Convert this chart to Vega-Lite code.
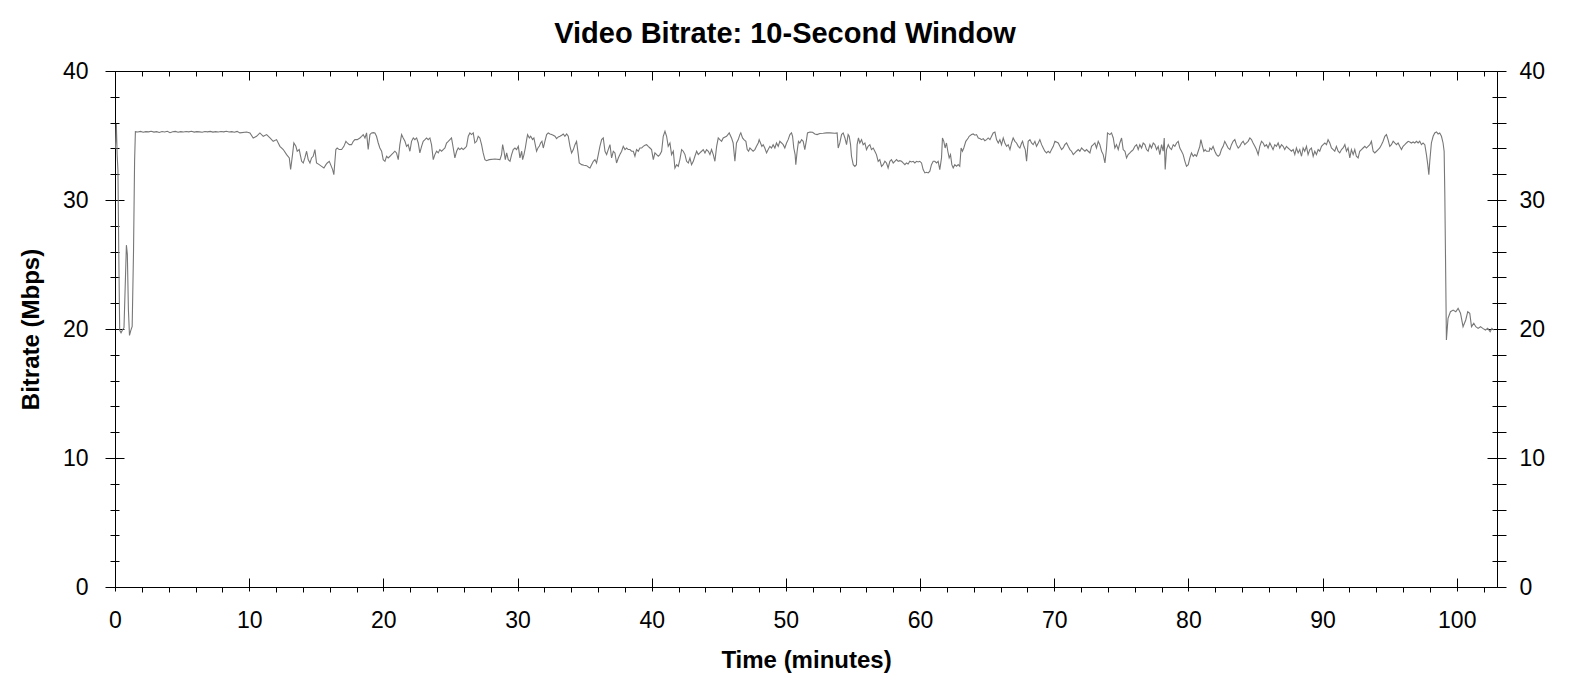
{
  "$schema": "https://vega.github.io/schema/vega-lite/v6.json",
  "title": {
    "text": "Video Bitrate: 10-Second Window",
    "font": "Liberation Sans",
    "fontSize": 29,
    "fontWeight": "bold",
    "color": "black",
    "anchor": "middle",
    "frame": "group",
    "dx": -21,
    "offset": 11
  },
  "autosize": "none",
  "padding": {"left": 115, "top": 71, "right": 73, "bottom": 108},
  "width": 1382,
  "height": 516,
  "background": "white",
  "config": {
    "view": {"stroke": "black", "strokeWidth": 1},
    "axis": {
      "domain": false,
      "grid": false,
      "tickColor": "black",
      "tickWidth": 1,
      "labelColor": "black",
      "labelFont": "Liberation Sans",
      "labelFontSize": 23,
      "labelFlush": false,
      "labelOverlap": false,
      "titleFont": "Liberation Sans",
      "titleFontSize": 24,
      "titleFontWeight": "bold",
      "titleColor": "black"
    }
  },
  "data": {
    "values": [
      {"minutes": 0.03, "mbps": 34.0},
      {"minutes": 0.10, "mbps": 35.9},
      {"minutes": 0.16, "mbps": 33.5},
      {"minutes": 0.22, "mbps": 32.3},
      {"minutes": 0.28, "mbps": 26.0},
      {"minutes": 0.35, "mbps": 19.9},
      {"minutes": 0.45, "mbps": 19.7},
      {"minutes": 0.55, "mbps": 19.9},
      {"minutes": 0.67, "mbps": 20.1},
      {"minutes": 0.78, "mbps": 24.0},
      {"minutes": 0.85, "mbps": 26.5},
      {"minutes": 0.92, "mbps": 25.8},
      {"minutes": 1.00, "mbps": 21.5},
      {"minutes": 1.08, "mbps": 19.5},
      {"minutes": 1.18, "mbps": 19.9},
      {"minutes": 1.28, "mbps": 20.2},
      {"minutes": 1.38, "mbps": 26.0},
      {"minutes": 1.46, "mbps": 33.0},
      {"minutes": 1.52, "mbps": 35.30},
      {"minutes": 1.7, "mbps": 35.27},
      {"minutes": 1.9, "mbps": 35.32},
      {"minutes": 2.1, "mbps": 35.25},
      {"minutes": 2.3, "mbps": 35.30},
      {"minutes": 2.5, "mbps": 35.28},
      {"minutes": 2.7, "mbps": 35.33},
      {"minutes": 2.9, "mbps": 35.26},
      {"minutes": 3.1, "mbps": 35.30},
      {"minutes": 3.3, "mbps": 35.24},
      {"minutes": 3.5, "mbps": 35.31},
      {"minutes": 3.7, "mbps": 35.27},
      {"minutes": 3.9, "mbps": 35.33},
      {"minutes": 4.1, "mbps": 35.22},
      {"minutes": 4.3, "mbps": 35.29},
      {"minutes": 4.5, "mbps": 35.32},
      {"minutes": 4.7, "mbps": 35.25},
      {"minutes": 4.9, "mbps": 35.30},
      {"minutes": 5.1, "mbps": 35.27},
      {"minutes": 5.3, "mbps": 35.31},
      {"minutes": 5.5, "mbps": 35.28},
      {"minutes": 5.7, "mbps": 35.33},
      {"minutes": 5.9, "mbps": 35.26},
      {"minutes": 6.1, "mbps": 35.30},
      {"minutes": 6.3, "mbps": 35.28},
      {"minutes": 6.5, "mbps": 35.25},
      {"minutes": 6.7, "mbps": 35.31},
      {"minutes": 6.9, "mbps": 35.28},
      {"minutes": 7.1, "mbps": 35.32},
      {"minutes": 7.3, "mbps": 35.26},
      {"minutes": 7.5, "mbps": 35.30},
      {"minutes": 7.7, "mbps": 35.27},
      {"minutes": 7.9, "mbps": 35.31},
      {"minutes": 8.1, "mbps": 35.28},
      {"minutes": 8.3, "mbps": 35.33},
      {"minutes": 8.5, "mbps": 35.27},
      {"minutes": 8.7, "mbps": 35.30},
      {"minutes": 8.9, "mbps": 35.25},
      {"minutes": 9.1, "mbps": 35.32},
      {"minutes": 9.31, "mbps": 35.20},
      {"minutes": 9.81, "mbps": 35.27},
      {"minutes": 10.06, "mbps": 35.20},
      {"minutes": 10.30, "mbps": 34.81},
      {"minutes": 10.55, "mbps": 34.94},
      {"minutes": 10.80, "mbps": 35.20},
      {"minutes": 11.05, "mbps": 34.94},
      {"minutes": 11.30, "mbps": 35.07},
      {"minutes": 11.55, "mbps": 34.81},
      {"minutes": 11.79, "mbps": 34.55},
      {"minutes": 12.04, "mbps": 34.68},
      {"minutes": 12.29, "mbps": 34.16},
      {"minutes": 12.54, "mbps": 33.91},
      {"minutes": 12.79, "mbps": 33.52},
      {"minutes": 12.99, "mbps": 33.26},
      {"minutes": 13.09, "mbps": 32.36},
      {"minutes": 13.23, "mbps": 33.52},
      {"minutes": 13.33, "mbps": 34.42},
      {"minutes": 13.48, "mbps": 34.16},
      {"minutes": 13.58, "mbps": 33.78},
      {"minutes": 13.73, "mbps": 33.91},
      {"minutes": 13.91, "mbps": 33.00},
      {"minutes": 14.03, "mbps": 32.87},
      {"minutes": 14.15, "mbps": 33.26},
      {"minutes": 14.28, "mbps": 33.78},
      {"minutes": 14.40, "mbps": 33.13},
      {"minutes": 14.53, "mbps": 32.87},
      {"minutes": 14.65, "mbps": 33.26},
      {"minutes": 14.77, "mbps": 33.39},
      {"minutes": 14.90, "mbps": 33.91},
      {"minutes": 15.02, "mbps": 32.87},
      {"minutes": 15.22, "mbps": 32.74},
      {"minutes": 15.40, "mbps": 32.61},
      {"minutes": 15.57, "mbps": 32.48},
      {"minutes": 15.72, "mbps": 32.74},
      {"minutes": 15.82, "mbps": 32.87},
      {"minutes": 15.97, "mbps": 33.00},
      {"minutes": 16.07, "mbps": 32.74},
      {"minutes": 16.22, "mbps": 32.36},
      {"minutes": 16.31, "mbps": 31.97},
      {"minutes": 16.46, "mbps": 33.91},
      {"minutes": 16.56, "mbps": 34.03},
      {"minutes": 16.71, "mbps": 33.91},
      {"minutes": 16.89, "mbps": 33.91},
      {"minutes": 17.06, "mbps": 34.16},
      {"minutes": 17.21, "mbps": 34.55},
      {"minutes": 17.31, "mbps": 34.42},
      {"minutes": 17.46, "mbps": 34.29},
      {"minutes": 17.63, "mbps": 34.29},
      {"minutes": 17.76, "mbps": 34.55},
      {"minutes": 17.88, "mbps": 34.68},
      {"minutes": 18.05, "mbps": 34.68},
      {"minutes": 18.25, "mbps": 34.81},
      {"minutes": 18.38, "mbps": 34.94},
      {"minutes": 18.50, "mbps": 35.07},
      {"minutes": 18.63, "mbps": 34.81},
      {"minutes": 18.75, "mbps": 35.20},
      {"minutes": 18.87, "mbps": 33.91},
      {"minutes": 19.00, "mbps": 35.07},
      {"minutes": 19.12, "mbps": 35.20},
      {"minutes": 19.25, "mbps": 35.22},
      {"minutes": 19.37, "mbps": 35.20},
      {"minutes": 19.49, "mbps": 34.94},
      {"minutes": 19.62, "mbps": 34.42},
      {"minutes": 19.74, "mbps": 34.03},
      {"minutes": 19.87, "mbps": 33.78},
      {"minutes": 19.99, "mbps": 33.13},
      {"minutes": 20.12, "mbps": 33.00},
      {"minutes": 20.24, "mbps": 33.39},
      {"minutes": 20.36, "mbps": 33.26},
      {"minutes": 20.49, "mbps": 33.39},
      {"minutes": 20.61, "mbps": 33.52},
      {"minutes": 20.74, "mbps": 33.65},
      {"minutes": 20.86, "mbps": 33.78},
      {"minutes": 20.98, "mbps": 33.65},
      {"minutes": 21.11, "mbps": 33.13},
      {"minutes": 21.23, "mbps": 34.29},
      {"minutes": 21.36, "mbps": 35.07},
      {"minutes": 21.48, "mbps": 34.81},
      {"minutes": 21.61, "mbps": 34.55},
      {"minutes": 21.73, "mbps": 34.16},
      {"minutes": 21.85, "mbps": 34.29},
      {"minutes": 21.98, "mbps": 33.78},
      {"minutes": 22.10, "mbps": 34.55},
      {"minutes": 22.23, "mbps": 34.81},
      {"minutes": 22.35, "mbps": 34.68},
      {"minutes": 22.48, "mbps": 34.81},
      {"minutes": 22.60, "mbps": 34.42},
      {"minutes": 22.72, "mbps": 33.65},
      {"minutes": 22.85, "mbps": 34.16},
      {"minutes": 22.97, "mbps": 34.55},
      {"minutes": 23.10, "mbps": 34.68},
      {"minutes": 23.22, "mbps": 34.81},
      {"minutes": 23.34, "mbps": 34.68},
      {"minutes": 23.47, "mbps": 34.81},
      {"minutes": 23.59, "mbps": 34.29},
      {"minutes": 23.72, "mbps": 33.13},
      {"minutes": 23.84, "mbps": 33.52},
      {"minutes": 23.97, "mbps": 33.78},
      {"minutes": 24.09, "mbps": 33.65},
      {"minutes": 24.21, "mbps": 33.91},
      {"minutes": 24.34, "mbps": 33.78},
      {"minutes": 24.46, "mbps": 33.91},
      {"minutes": 24.59, "mbps": 34.03},
      {"minutes": 24.71, "mbps": 34.42},
      {"minutes": 24.84, "mbps": 34.55},
      {"minutes": 24.96, "mbps": 34.68},
      {"minutes": 25.08, "mbps": 34.81},
      {"minutes": 25.21, "mbps": 34.03},
      {"minutes": 25.33, "mbps": 33.26},
      {"minutes": 25.46, "mbps": 33.78},
      {"minutes": 25.58, "mbps": 34.03},
      {"minutes": 25.70, "mbps": 33.91},
      {"minutes": 25.83, "mbps": 34.03},
      {"minutes": 25.95, "mbps": 33.91},
      {"minutes": 26.08, "mbps": 34.03},
      {"minutes": 26.20, "mbps": 34.16},
      {"minutes": 26.33, "mbps": 34.94},
      {"minutes": 26.45, "mbps": 35.20},
      {"minutes": 26.57, "mbps": 35.07},
      {"minutes": 26.70, "mbps": 35.20},
      {"minutes": 26.82, "mbps": 34.42},
      {"minutes": 26.95, "mbps": 34.55},
      {"minutes": 27.07, "mbps": 34.94},
      {"minutes": 27.19, "mbps": 34.81},
      {"minutes": 27.32, "mbps": 34.29},
      {"minutes": 27.44, "mbps": 33.65},
      {"minutes": 27.57, "mbps": 33.13},
      {"minutes": 27.69, "mbps": 33.05},
      {"minutes": 27.89, "mbps": 33.13},
      {"minutes": 28.32, "mbps": 33.18},
      {"minutes": 28.69, "mbps": 33.13},
      {"minutes": 28.81, "mbps": 33.52},
      {"minutes": 28.89, "mbps": 34.29},
      {"minutes": 28.99, "mbps": 33.78},
      {"minutes": 29.09, "mbps": 33.13},
      {"minutes": 29.19, "mbps": 33.65},
      {"minutes": 29.31, "mbps": 33.13},
      {"minutes": 29.44, "mbps": 33.00},
      {"minutes": 29.56, "mbps": 33.52},
      {"minutes": 29.68, "mbps": 33.91},
      {"minutes": 29.81, "mbps": 34.03},
      {"minutes": 29.93, "mbps": 33.91},
      {"minutes": 30.06, "mbps": 34.16},
      {"minutes": 30.18, "mbps": 33.26},
      {"minutes": 30.31, "mbps": 33.78},
      {"minutes": 30.38, "mbps": 33.13},
      {"minutes": 30.48, "mbps": 33.52},
      {"minutes": 30.58, "mbps": 34.03},
      {"minutes": 30.68, "mbps": 34.68},
      {"minutes": 30.75, "mbps": 35.07},
      {"minutes": 30.88, "mbps": 34.81},
      {"minutes": 30.98, "mbps": 34.94},
      {"minutes": 31.12, "mbps": 34.68},
      {"minutes": 31.22, "mbps": 34.81},
      {"minutes": 31.32, "mbps": 34.29},
      {"minutes": 31.42, "mbps": 33.78},
      {"minutes": 31.52, "mbps": 34.03},
      {"minutes": 31.62, "mbps": 34.16},
      {"minutes": 31.72, "mbps": 34.42},
      {"minutes": 31.82, "mbps": 34.55},
      {"minutes": 31.92, "mbps": 34.03},
      {"minutes": 32.04, "mbps": 34.55},
      {"minutes": 32.17, "mbps": 35.07},
      {"minutes": 32.29, "mbps": 35.20},
      {"minutes": 32.42, "mbps": 35.12},
      {"minutes": 32.54, "mbps": 35.07},
      {"minutes": 32.66, "mbps": 35.02},
      {"minutes": 32.79, "mbps": 34.94},
      {"minutes": 32.91, "mbps": 34.76},
      {"minutes": 33.04, "mbps": 34.89},
      {"minutes": 33.16, "mbps": 34.94},
      {"minutes": 33.29, "mbps": 35.02},
      {"minutes": 33.41, "mbps": 35.12},
      {"minutes": 33.53, "mbps": 34.94},
      {"minutes": 33.66, "mbps": 35.12},
      {"minutes": 33.78, "mbps": 34.94},
      {"minutes": 33.91, "mbps": 34.16},
      {"minutes": 34.03, "mbps": 33.65},
      {"minutes": 34.16, "mbps": 33.91},
      {"minutes": 34.28, "mbps": 34.29},
      {"minutes": 34.40, "mbps": 34.55},
      {"minutes": 34.53, "mbps": 33.52},
      {"minutes": 34.60, "mbps": 32.87},
      {"minutes": 34.78, "mbps": 32.74},
      {"minutes": 34.95, "mbps": 32.69},
      {"minutes": 35.15, "mbps": 32.66},
      {"minutes": 35.30, "mbps": 32.54},
      {"minutes": 35.40, "mbps": 32.48},
      {"minutes": 35.52, "mbps": 32.74},
      {"minutes": 35.65, "mbps": 33.00},
      {"minutes": 35.77, "mbps": 33.13},
      {"minutes": 35.89, "mbps": 32.87},
      {"minutes": 36.02, "mbps": 33.52},
      {"minutes": 36.14, "mbps": 34.16},
      {"minutes": 36.27, "mbps": 34.68},
      {"minutes": 36.39, "mbps": 34.81},
      {"minutes": 36.52, "mbps": 33.78},
      {"minutes": 36.64, "mbps": 33.52},
      {"minutes": 36.76, "mbps": 33.91},
      {"minutes": 36.89, "mbps": 34.29},
      {"minutes": 37.01, "mbps": 33.26},
      {"minutes": 37.14, "mbps": 33.78},
      {"minutes": 37.26, "mbps": 33.65},
      {"minutes": 37.38, "mbps": 32.87},
      {"minutes": 37.51, "mbps": 33.26},
      {"minutes": 37.63, "mbps": 33.52},
      {"minutes": 37.76, "mbps": 33.78},
      {"minutes": 37.88, "mbps": 34.16},
      {"minutes": 38.01, "mbps": 33.91},
      {"minutes": 38.13, "mbps": 34.03},
      {"minutes": 38.25, "mbps": 33.91},
      {"minutes": 38.38, "mbps": 33.91},
      {"minutes": 38.50, "mbps": 33.78},
      {"minutes": 38.63, "mbps": 33.78},
      {"minutes": 38.75, "mbps": 33.39},
      {"minutes": 38.87, "mbps": 33.91},
      {"minutes": 39.00, "mbps": 33.78},
      {"minutes": 39.12, "mbps": 34.03},
      {"minutes": 39.25, "mbps": 34.03},
      {"minutes": 39.37, "mbps": 34.16},
      {"minutes": 39.50, "mbps": 34.24},
      {"minutes": 39.62, "mbps": 34.29},
      {"minutes": 39.74, "mbps": 34.16},
      {"minutes": 39.87, "mbps": 34.03},
      {"minutes": 39.99, "mbps": 33.91},
      {"minutes": 40.12, "mbps": 33.13},
      {"minutes": 40.24, "mbps": 33.65},
      {"minutes": 40.37, "mbps": 33.52},
      {"minutes": 40.49, "mbps": 33.39},
      {"minutes": 40.61, "mbps": 33.52},
      {"minutes": 40.74, "mbps": 33.78},
      {"minutes": 40.86, "mbps": 34.94},
      {"minutes": 40.99, "mbps": 35.33},
      {"minutes": 41.11, "mbps": 34.94},
      {"minutes": 41.23, "mbps": 34.16},
      {"minutes": 41.36, "mbps": 34.42},
      {"minutes": 41.48, "mbps": 33.52},
      {"minutes": 41.61, "mbps": 33.78},
      {"minutes": 41.73, "mbps": 32.48},
      {"minutes": 41.86, "mbps": 32.74},
      {"minutes": 41.98, "mbps": 32.61},
      {"minutes": 42.10, "mbps": 33.13},
      {"minutes": 42.23, "mbps": 33.91},
      {"minutes": 42.35, "mbps": 33.78},
      {"minutes": 42.48, "mbps": 33.52},
      {"minutes": 42.60, "mbps": 33.00},
      {"minutes": 42.73, "mbps": 32.87},
      {"minutes": 42.85, "mbps": 33.26},
      {"minutes": 42.97, "mbps": 32.74},
      {"minutes": 43.10, "mbps": 33.00},
      {"minutes": 43.22, "mbps": 33.39},
      {"minutes": 43.35, "mbps": 33.78},
      {"minutes": 43.47, "mbps": 33.52},
      {"minutes": 43.59, "mbps": 33.65},
      {"minutes": 43.72, "mbps": 33.78},
      {"minutes": 43.84, "mbps": 33.91},
      {"minutes": 43.97, "mbps": 33.65},
      {"minutes": 44.09, "mbps": 33.91},
      {"minutes": 44.22, "mbps": 33.78},
      {"minutes": 44.34, "mbps": 33.52},
      {"minutes": 44.46, "mbps": 33.91},
      {"minutes": 44.59, "mbps": 33.52},
      {"minutes": 44.71, "mbps": 33.00},
      {"minutes": 44.84, "mbps": 34.16},
      {"minutes": 44.96, "mbps": 34.81},
      {"minutes": 45.08, "mbps": 34.68},
      {"minutes": 45.21, "mbps": 34.55},
      {"minutes": 45.33, "mbps": 34.81},
      {"minutes": 45.58, "mbps": 34.94},
      {"minutes": 45.78, "mbps": 35.20},
      {"minutes": 45.83, "mbps": 35.07},
      {"minutes": 45.95, "mbps": 34.81},
      {"minutes": 46.07, "mbps": 34.42},
      {"minutes": 46.20, "mbps": 33.00},
      {"minutes": 46.32, "mbps": 34.42},
      {"minutes": 46.45, "mbps": 34.68},
      {"minutes": 46.57, "mbps": 35.07},
      {"minutes": 46.64, "mbps": 35.20},
      {"minutes": 46.77, "mbps": 34.81},
      {"minutes": 46.87, "mbps": 34.68},
      {"minutes": 47.02, "mbps": 34.55},
      {"minutes": 47.12, "mbps": 33.91},
      {"minutes": 47.22, "mbps": 33.78},
      {"minutes": 47.32, "mbps": 34.03},
      {"minutes": 47.44, "mbps": 33.91},
      {"minutes": 47.56, "mbps": 33.78},
      {"minutes": 47.69, "mbps": 33.91},
      {"minutes": 47.81, "mbps": 34.16},
      {"minutes": 47.94, "mbps": 34.42},
      {"minutes": 48.01, "mbps": 34.68},
      {"minutes": 48.11, "mbps": 34.42},
      {"minutes": 48.21, "mbps": 34.16},
      {"minutes": 48.31, "mbps": 34.29},
      {"minutes": 48.43, "mbps": 34.03},
      {"minutes": 48.56, "mbps": 33.65},
      {"minutes": 48.68, "mbps": 33.91},
      {"minutes": 48.81, "mbps": 34.16},
      {"minutes": 48.93, "mbps": 34.03},
      {"minutes": 49.05, "mbps": 34.29},
      {"minutes": 49.18, "mbps": 34.03},
      {"minutes": 49.30, "mbps": 34.42},
      {"minutes": 49.43, "mbps": 34.16},
      {"minutes": 49.55, "mbps": 34.55},
      {"minutes": 49.68, "mbps": 34.42},
      {"minutes": 49.80, "mbps": 34.29},
      {"minutes": 49.92, "mbps": 34.03},
      {"minutes": 50.05, "mbps": 34.42},
      {"minutes": 50.17, "mbps": 34.68},
      {"minutes": 50.30, "mbps": 35.07},
      {"minutes": 50.42, "mbps": 35.20},
      {"minutes": 50.50, "mbps": 34.94},
      {"minutes": 50.59, "mbps": 34.03},
      {"minutes": 50.69, "mbps": 33.52},
      {"minutes": 50.74, "mbps": 32.74},
      {"minutes": 50.84, "mbps": 33.78},
      {"minutes": 50.94, "mbps": 34.55},
      {"minutes": 51.04, "mbps": 34.42},
      {"minutes": 51.17, "mbps": 34.68},
      {"minutes": 51.29, "mbps": 34.55},
      {"minutes": 51.41, "mbps": 33.91},
      {"minutes": 51.54, "mbps": 34.68},
      {"minutes": 51.61, "mbps": 35.20},
      {"minutes": 51.79, "mbps": 35.27},
      {"minutes": 51.99, "mbps": 35.25},
      {"minutes": 52.16, "mbps": 35.12},
      {"minutes": 52.33, "mbps": 35.07},
      {"minutes": 52.53, "mbps": 35.15},
      {"minutes": 52.78, "mbps": 35.17},
      {"minutes": 53.03, "mbps": 35.20},
      {"minutes": 53.28, "mbps": 35.20},
      {"minutes": 53.65, "mbps": 35.17},
      {"minutes": 53.82, "mbps": 35.20},
      {"minutes": 53.90, "mbps": 34.03},
      {"minutes": 54.02, "mbps": 34.42},
      {"minutes": 54.15, "mbps": 35.07},
      {"minutes": 54.27, "mbps": 35.20},
      {"minutes": 54.40, "mbps": 34.81},
      {"minutes": 54.52, "mbps": 34.29},
      {"minutes": 54.64, "mbps": 35.07},
      {"minutes": 54.72, "mbps": 34.94},
      {"minutes": 54.82, "mbps": 34.29},
      {"minutes": 54.89, "mbps": 33.39},
      {"minutes": 55.02, "mbps": 32.74},
      {"minutes": 55.14, "mbps": 32.61},
      {"minutes": 55.26, "mbps": 32.74},
      {"minutes": 55.31, "mbps": 34.29},
      {"minutes": 55.41, "mbps": 34.81},
      {"minutes": 55.51, "mbps": 34.42},
      {"minutes": 55.64, "mbps": 34.68},
      {"minutes": 55.76, "mbps": 34.29},
      {"minutes": 55.89, "mbps": 34.42},
      {"minutes": 56.01, "mbps": 33.91},
      {"minutes": 56.13, "mbps": 34.16},
      {"minutes": 56.26, "mbps": 34.29},
      {"minutes": 56.38, "mbps": 33.91},
      {"minutes": 56.51, "mbps": 34.03},
      {"minutes": 56.63, "mbps": 33.78},
      {"minutes": 56.75, "mbps": 33.52},
      {"minutes": 56.88, "mbps": 33.00},
      {"minutes": 57.00, "mbps": 33.13},
      {"minutes": 57.13, "mbps": 32.61},
      {"minutes": 57.25, "mbps": 32.74},
      {"minutes": 57.38, "mbps": 33.00},
      {"minutes": 57.50, "mbps": 32.87},
      {"minutes": 57.62, "mbps": 32.48},
      {"minutes": 57.75, "mbps": 33.00},
      {"minutes": 57.87, "mbps": 33.13},
      {"minutes": 58.00, "mbps": 32.87},
      {"minutes": 58.12, "mbps": 33.00},
      {"minutes": 58.25, "mbps": 33.13},
      {"minutes": 58.37, "mbps": 33.00},
      {"minutes": 58.49, "mbps": 33.05},
      {"minutes": 58.62, "mbps": 33.00},
      {"minutes": 58.74, "mbps": 32.87},
      {"minutes": 58.87, "mbps": 32.74},
      {"minutes": 58.99, "mbps": 32.87},
      {"minutes": 59.11, "mbps": 32.79},
      {"minutes": 59.24, "mbps": 33.00},
      {"minutes": 59.36, "mbps": 32.95},
      {"minutes": 59.49, "mbps": 33.00},
      {"minutes": 59.61, "mbps": 32.87},
      {"minutes": 59.74, "mbps": 33.00},
      {"minutes": 59.86, "mbps": 32.95},
      {"minutes": 59.98, "mbps": 33.00},
      {"minutes": 60.11, "mbps": 32.87},
      {"minutes": 60.23, "mbps": 32.36},
      {"minutes": 60.36, "mbps": 32.10},
      {"minutes": 60.48, "mbps": 32.15},
      {"minutes": 60.61, "mbps": 32.10},
      {"minutes": 60.73, "mbps": 32.23},
      {"minutes": 60.85, "mbps": 32.74},
      {"minutes": 60.98, "mbps": 33.00},
      {"minutes": 61.10, "mbps": 33.00},
      {"minutes": 61.23, "mbps": 32.87},
      {"minutes": 61.35, "mbps": 33.00},
      {"minutes": 61.47, "mbps": 32.36},
      {"minutes": 61.60, "mbps": 33.26},
      {"minutes": 61.67, "mbps": 34.81},
      {"minutes": 61.77, "mbps": 34.55},
      {"minutes": 61.87, "mbps": 34.03},
      {"minutes": 61.97, "mbps": 34.42},
      {"minutes": 62.07, "mbps": 33.78},
      {"minutes": 62.17, "mbps": 33.26},
      {"minutes": 62.27, "mbps": 33.52},
      {"minutes": 62.37, "mbps": 32.74},
      {"minutes": 62.47, "mbps": 32.48},
      {"minutes": 62.59, "mbps": 32.74},
      {"minutes": 62.72, "mbps": 32.61},
      {"minutes": 62.84, "mbps": 32.74},
      {"minutes": 62.96, "mbps": 32.61},
      {"minutes": 63.06, "mbps": 34.03},
      {"minutes": 63.16, "mbps": 33.78},
      {"minutes": 63.26, "mbps": 34.03},
      {"minutes": 63.41, "mbps": 34.55},
      {"minutes": 63.59, "mbps": 34.81},
      {"minutes": 63.66, "mbps": 34.94},
      {"minutes": 63.84, "mbps": 35.07},
      {"minutes": 63.96, "mbps": 35.12},
      {"minutes": 64.09, "mbps": 35.02},
      {"minutes": 64.21, "mbps": 35.07},
      {"minutes": 64.34, "mbps": 34.81},
      {"minutes": 64.46, "mbps": 34.76},
      {"minutes": 64.58, "mbps": 34.68},
      {"minutes": 64.71, "mbps": 34.76},
      {"minutes": 64.83, "mbps": 34.60},
      {"minutes": 64.96, "mbps": 34.68},
      {"minutes": 65.08, "mbps": 34.81},
      {"minutes": 65.21, "mbps": 34.68},
      {"minutes": 65.33, "mbps": 34.94},
      {"minutes": 65.45, "mbps": 35.20},
      {"minutes": 65.58, "mbps": 35.27},
      {"minutes": 65.70, "mbps": 34.68},
      {"minutes": 65.83, "mbps": 34.42},
      {"minutes": 65.95, "mbps": 34.68},
      {"minutes": 66.07, "mbps": 34.29},
      {"minutes": 66.20, "mbps": 34.81},
      {"minutes": 66.32, "mbps": 34.42},
      {"minutes": 66.45, "mbps": 34.16},
      {"minutes": 66.57, "mbps": 34.29},
      {"minutes": 66.70, "mbps": 33.91},
      {"minutes": 66.82, "mbps": 34.42},
      {"minutes": 66.94, "mbps": 34.81},
      {"minutes": 67.07, "mbps": 34.55},
      {"minutes": 67.19, "mbps": 34.42},
      {"minutes": 67.32, "mbps": 34.16},
      {"minutes": 67.44, "mbps": 34.03},
      {"minutes": 67.57, "mbps": 34.42},
      {"minutes": 67.64, "mbps": 34.55},
      {"minutes": 67.74, "mbps": 34.16},
      {"minutes": 67.84, "mbps": 33.91},
      {"minutes": 67.94, "mbps": 33.00},
      {"minutes": 68.06, "mbps": 34.55},
      {"minutes": 68.19, "mbps": 34.68},
      {"minutes": 68.31, "mbps": 34.42},
      {"minutes": 68.43, "mbps": 34.29},
      {"minutes": 68.56, "mbps": 34.55},
      {"minutes": 68.68, "mbps": 34.16},
      {"minutes": 68.81, "mbps": 34.42},
      {"minutes": 68.93, "mbps": 34.68},
      {"minutes": 69.06, "mbps": 34.29},
      {"minutes": 69.18, "mbps": 34.03},
      {"minutes": 69.30, "mbps": 33.78},
      {"minutes": 69.43, "mbps": 33.65},
      {"minutes": 69.55, "mbps": 33.78},
      {"minutes": 69.68, "mbps": 33.65},
      {"minutes": 69.80, "mbps": 33.91},
      {"minutes": 69.93, "mbps": 34.16},
      {"minutes": 70.05, "mbps": 34.55},
      {"minutes": 70.17, "mbps": 34.50},
      {"minutes": 70.30, "mbps": 34.42},
      {"minutes": 70.42, "mbps": 34.16},
      {"minutes": 70.55, "mbps": 33.91},
      {"minutes": 70.67, "mbps": 34.03},
      {"minutes": 70.79, "mbps": 34.29},
      {"minutes": 70.92, "mbps": 34.42},
      {"minutes": 71.04, "mbps": 34.16},
      {"minutes": 71.17, "mbps": 33.91},
      {"minutes": 71.29, "mbps": 33.78},
      {"minutes": 71.42, "mbps": 33.52},
      {"minutes": 71.54, "mbps": 33.65},
      {"minutes": 71.66, "mbps": 33.78},
      {"minutes": 71.79, "mbps": 33.91},
      {"minutes": 71.91, "mbps": 33.78},
      {"minutes": 72.04, "mbps": 34.03},
      {"minutes": 72.16, "mbps": 33.91},
      {"minutes": 72.29, "mbps": 33.78},
      {"minutes": 72.41, "mbps": 33.91},
      {"minutes": 72.53, "mbps": 33.78},
      {"minutes": 72.66, "mbps": 33.65},
      {"minutes": 72.78, "mbps": 34.16},
      {"minutes": 72.91, "mbps": 34.29},
      {"minutes": 73.03, "mbps": 34.42},
      {"minutes": 73.15, "mbps": 34.03},
      {"minutes": 73.28, "mbps": 34.55},
      {"minutes": 73.40, "mbps": 34.29},
      {"minutes": 73.53, "mbps": 33.78},
      {"minutes": 73.65, "mbps": 33.52},
      {"minutes": 73.78, "mbps": 32.87},
      {"minutes": 73.90, "mbps": 34.03},
      {"minutes": 73.97, "mbps": 35.20},
      {"minutes": 74.15, "mbps": 35.07},
      {"minutes": 74.27, "mbps": 35.20},
      {"minutes": 74.40, "mbps": 34.81},
      {"minutes": 74.52, "mbps": 34.03},
      {"minutes": 74.64, "mbps": 34.29},
      {"minutes": 74.77, "mbps": 33.91},
      {"minutes": 74.89, "mbps": 34.42},
      {"minutes": 75.02, "mbps": 34.81},
      {"minutes": 75.14, "mbps": 33.91},
      {"minutes": 75.27, "mbps": 33.78},
      {"minutes": 75.39, "mbps": 33.26},
      {"minutes": 75.51, "mbps": 33.52},
      {"minutes": 75.64, "mbps": 33.65},
      {"minutes": 75.76, "mbps": 33.78},
      {"minutes": 75.89, "mbps": 33.91},
      {"minutes": 76.01, "mbps": 34.16},
      {"minutes": 76.14, "mbps": 34.29},
      {"minutes": 76.26, "mbps": 33.91},
      {"minutes": 76.38, "mbps": 34.29},
      {"minutes": 76.51, "mbps": 34.03},
      {"minutes": 76.63, "mbps": 34.42},
      {"minutes": 76.76, "mbps": 34.29},
      {"minutes": 76.88, "mbps": 33.91},
      {"minutes": 77.00, "mbps": 33.78},
      {"minutes": 77.13, "mbps": 34.29},
      {"minutes": 77.25, "mbps": 34.03},
      {"minutes": 77.38, "mbps": 34.42},
      {"minutes": 77.50, "mbps": 34.29},
      {"minutes": 77.63, "mbps": 33.91},
      {"minutes": 77.75, "mbps": 34.16},
      {"minutes": 77.87, "mbps": 33.52},
      {"minutes": 78.00, "mbps": 34.29},
      {"minutes": 78.12, "mbps": 33.78},
      {"minutes": 78.20, "mbps": 34.81},
      {"minutes": 78.27, "mbps": 32.36},
      {"minutes": 78.37, "mbps": 33.91},
      {"minutes": 78.50, "mbps": 34.29},
      {"minutes": 78.62, "mbps": 34.03},
      {"minutes": 78.74, "mbps": 33.91},
      {"minutes": 78.87, "mbps": 34.29},
      {"minutes": 78.99, "mbps": 34.16},
      {"minutes": 79.12, "mbps": 34.42},
      {"minutes": 79.24, "mbps": 34.55},
      {"minutes": 79.36, "mbps": 34.03},
      {"minutes": 79.49, "mbps": 33.78},
      {"minutes": 79.61, "mbps": 33.52},
      {"minutes": 79.74, "mbps": 33.00},
      {"minutes": 79.86, "mbps": 32.61},
      {"minutes": 79.99, "mbps": 32.74},
      {"minutes": 80.11, "mbps": 33.26},
      {"minutes": 80.23, "mbps": 33.65},
      {"minutes": 80.36, "mbps": 33.39},
      {"minutes": 80.48, "mbps": 33.52},
      {"minutes": 80.61, "mbps": 33.39},
      {"minutes": 80.73, "mbps": 33.78},
      {"minutes": 80.85, "mbps": 34.16},
      {"minutes": 80.93, "mbps": 34.68},
      {"minutes": 81.05, "mbps": 34.16},
      {"minutes": 81.15, "mbps": 33.78},
      {"minutes": 81.25, "mbps": 33.91},
      {"minutes": 81.35, "mbps": 33.78},
      {"minutes": 81.55, "mbps": 33.78},
      {"minutes": 81.60, "mbps": 34.03},
      {"minutes": 81.72, "mbps": 33.91},
      {"minutes": 81.84, "mbps": 34.16},
      {"minutes": 81.97, "mbps": 33.78},
      {"minutes": 82.09, "mbps": 33.52},
      {"minutes": 82.22, "mbps": 33.39},
      {"minutes": 82.34, "mbps": 33.52},
      {"minutes": 82.46, "mbps": 33.91},
      {"minutes": 82.59, "mbps": 34.16},
      {"minutes": 82.71, "mbps": 34.55},
      {"minutes": 82.84, "mbps": 34.29},
      {"minutes": 82.96, "mbps": 34.03},
      {"minutes": 83.09, "mbps": 33.91},
      {"minutes": 83.21, "mbps": 34.29},
      {"minutes": 83.33, "mbps": 34.55},
      {"minutes": 83.46, "mbps": 34.68},
      {"minutes": 83.58, "mbps": 34.29},
      {"minutes": 83.71, "mbps": 34.03},
      {"minutes": 83.83, "mbps": 34.16},
      {"minutes": 83.96, "mbps": 34.42},
      {"minutes": 84.08, "mbps": 34.55},
      {"minutes": 84.20, "mbps": 34.29},
      {"minutes": 84.33, "mbps": 34.42},
      {"minutes": 84.45, "mbps": 34.55},
      {"minutes": 84.58, "mbps": 34.81},
      {"minutes": 84.70, "mbps": 34.68},
      {"minutes": 84.82, "mbps": 34.42},
      {"minutes": 84.95, "mbps": 34.16},
      {"minutes": 85.07, "mbps": 33.91},
      {"minutes": 85.20, "mbps": 33.52},
      {"minutes": 85.32, "mbps": 34.16},
      {"minutes": 85.45, "mbps": 34.55},
      {"minutes": 85.57, "mbps": 34.42},
      {"minutes": 85.69, "mbps": 34.16},
      {"minutes": 85.82, "mbps": 34.29},
      {"minutes": 85.94, "mbps": 34.03},
      {"minutes": 86.07, "mbps": 34.42},
      {"minutes": 86.19, "mbps": 34.16},
      {"minutes": 86.31, "mbps": 33.91},
      {"minutes": 86.44, "mbps": 34.29},
      {"minutes": 86.56, "mbps": 34.16},
      {"minutes": 86.69, "mbps": 34.42},
      {"minutes": 86.81, "mbps": 34.03},
      {"minutes": 86.94, "mbps": 34.29},
      {"minutes": 87.06, "mbps": 34.16},
      {"minutes": 87.18, "mbps": 33.91},
      {"minutes": 87.31, "mbps": 34.16},
      {"minutes": 87.43, "mbps": 34.03},
      {"minutes": 87.56, "mbps": 33.91},
      {"minutes": 87.68, "mbps": 33.78},
      {"minutes": 87.81, "mbps": 33.91},
      {"minutes": 87.93, "mbps": 33.52},
      {"minutes": 88.05, "mbps": 34.03},
      {"minutes": 88.18, "mbps": 33.65},
      {"minutes": 88.30, "mbps": 33.91},
      {"minutes": 88.43, "mbps": 33.39},
      {"minutes": 88.55, "mbps": 34.03},
      {"minutes": 88.67, "mbps": 33.78},
      {"minutes": 88.80, "mbps": 34.16},
      {"minutes": 88.92, "mbps": 33.52},
      {"minutes": 89.05, "mbps": 33.91},
      {"minutes": 89.17, "mbps": 34.03},
      {"minutes": 89.30, "mbps": 33.39},
      {"minutes": 89.42, "mbps": 33.78},
      {"minutes": 89.54, "mbps": 33.52},
      {"minutes": 89.67, "mbps": 33.91},
      {"minutes": 89.79, "mbps": 33.78},
      {"minutes": 89.92, "mbps": 34.16},
      {"minutes": 90.04, "mbps": 34.29},
      {"minutes": 90.17, "mbps": 34.42},
      {"minutes": 90.29, "mbps": 34.29},
      {"minutes": 90.41, "mbps": 34.68},
      {"minutes": 90.54, "mbps": 34.42},
      {"minutes": 90.66, "mbps": 34.03},
      {"minutes": 90.79, "mbps": 33.91},
      {"minutes": 90.91, "mbps": 33.78},
      {"minutes": 91.03, "mbps": 34.16},
      {"minutes": 91.16, "mbps": 33.78},
      {"minutes": 91.28, "mbps": 33.65},
      {"minutes": 91.41, "mbps": 33.91},
      {"minutes": 91.53, "mbps": 34.03},
      {"minutes": 91.66, "mbps": 34.29},
      {"minutes": 91.78, "mbps": 33.78},
      {"minutes": 91.90, "mbps": 34.03},
      {"minutes": 92.03, "mbps": 33.26},
      {"minutes": 92.15, "mbps": 33.91},
      {"minutes": 92.28, "mbps": 33.52},
      {"minutes": 92.40, "mbps": 33.91},
      {"minutes": 92.52, "mbps": 33.39},
      {"minutes": 92.65, "mbps": 33.26},
      {"minutes": 92.77, "mbps": 33.78},
      {"minutes": 92.90, "mbps": 33.91},
      {"minutes": 93.02, "mbps": 34.03},
      {"minutes": 93.15, "mbps": 34.16},
      {"minutes": 93.27, "mbps": 34.03},
      {"minutes": 93.39, "mbps": 34.16},
      {"minutes": 93.52, "mbps": 34.29},
      {"minutes": 93.64, "mbps": 34.55},
      {"minutes": 93.77, "mbps": 33.78},
      {"minutes": 93.89, "mbps": 33.65},
      {"minutes": 94.02, "mbps": 33.78},
      {"minutes": 94.14, "mbps": 33.91},
      {"minutes": 94.26, "mbps": 34.03},
      {"minutes": 94.39, "mbps": 34.29},
      {"minutes": 94.51, "mbps": 34.55},
      {"minutes": 94.64, "mbps": 34.94},
      {"minutes": 94.76, "mbps": 35.07},
      {"minutes": 94.88, "mbps": 34.68},
      {"minutes": 95.01, "mbps": 34.16},
      {"minutes": 95.13, "mbps": 34.29},
      {"minutes": 95.26, "mbps": 34.55},
      {"minutes": 95.38, "mbps": 34.42},
      {"minutes": 95.51, "mbps": 34.29},
      {"minutes": 95.63, "mbps": 34.42},
      {"minutes": 95.75, "mbps": 34.16},
      {"minutes": 95.88, "mbps": 33.91},
      {"minutes": 96.00, "mbps": 34.16},
      {"minutes": 96.13, "mbps": 34.29},
      {"minutes": 96.25, "mbps": 34.42},
      {"minutes": 96.38, "mbps": 34.55},
      {"minutes": 96.50, "mbps": 34.50},
      {"minutes": 96.62, "mbps": 34.42},
      {"minutes": 96.75, "mbps": 34.50},
      {"minutes": 96.87, "mbps": 34.42},
      {"minutes": 97.00, "mbps": 34.55},
      {"minutes": 97.12, "mbps": 34.42},
      {"minutes": 97.24, "mbps": 34.55},
      {"minutes": 97.37, "mbps": 34.29},
      {"minutes": 97.49, "mbps": 34.42},
      {"minutes": 97.62, "mbps": 34.29},
      {"minutes": 97.74, "mbps": 33.52},
      {"minutes": 97.84, "mbps": 32.74},
      {"minutes": 97.92, "mbps": 31.97},
      {"minutes": 97.99, "mbps": 33.00},
      {"minutes": 98.11, "mbps": 34.42},
      {"minutes": 98.24, "mbps": 34.94},
      {"minutes": 98.36, "mbps": 35.20},
      {"minutes": 98.49, "mbps": 35.27},
      {"minutes": 98.61, "mbps": 35.12},
      {"minutes": 98.73, "mbps": 35.20},
      {"minutes": 98.86, "mbps": 34.94},
      {"minutes": 98.98, "mbps": 34.42},
      {"minutes": 99.06, "mbps": 33.78},
      {"minutes": 99.11, "mbps": 30.5},
      {"minutes": 99.23, "mbps": 19.15},
      {"minutes": 99.35, "mbps": 20.83},
      {"minutes": 99.53, "mbps": 21.34},
      {"minutes": 99.73, "mbps": 21.47},
      {"minutes": 99.93, "mbps": 21.34},
      {"minutes": 100.10, "mbps": 21.60},
      {"minutes": 100.28, "mbps": 21.22},
      {"minutes": 100.47, "mbps": 20.18},
      {"minutes": 100.67, "mbps": 20.70},
      {"minutes": 100.82, "mbps": 21.34},
      {"minutes": 100.97, "mbps": 21.22},
      {"minutes": 101.10, "mbps": 20.18},
      {"minutes": 101.27, "mbps": 20.44},
      {"minutes": 101.42, "mbps": 20.18},
      {"minutes": 101.59, "mbps": 20.05},
      {"minutes": 101.77, "mbps": 20.18},
      {"minutes": 101.94, "mbps": 20.05},
      {"minutes": 102.14, "mbps": 19.92},
      {"minutes": 102.31, "mbps": 20.05},
      {"minutes": 102.49, "mbps": 19.79},
      {"minutes": 102.62, "mbps": 20.05},
      {"minutes": 102.75, "mbps": 19.92}
    ]
  },
  "layer": [
    {
      "mark": {"type": "line", "color": "#777777", "strokeWidth": 1.1, "clip": true},
      "encoding": {
        "x": {
          "field": "minutes",
          "type": "quantitative",
          "scale": {"domain": [0, 103], "nice": false, "zero": false},
          "axis": {
            "orient": "bottom",
            "values": [0, 10, 20, 30, 40, 50, 60, 70, 80, 90, 100],
            "tickSize": 4,
            "labelPadding": 18,
            "title": "Time (minutes)",
            "titlePadding": 16
          }
        },
        "y": {
          "field": "mbps",
          "type": "quantitative",
          "scale": {"domain": [0, 40], "nice": false},
          "axis": {
            "orient": "left",
            "values": [0, 10, 20, 30, 40],
            "tickSize": 10,
            "labelPadding": 17,
            "title": "Bitrate (Mbps)",
            "titlePadding": 19
          }
        }
      }
    },
    {
      "mark": {"type": "line", "strokeOpacity": 0},
      "encoding": {
        "x": {"field": "minutes", "type": "quantitative",
          "axis": {"orient": "bottom", "values": [0, 10, 20, 30, 40, 50, 60, 70, 80, 90, 100], "tickSize": -9, "labels": false, "title": null}},
        "y": {"field": "mbps", "type": "quantitative",
          "axis": {"orient": "left", "values": [0, 10, 20, 30, 40], "tickSize": -9, "labels": false, "title": null}}
      }
    },
    {
      "mark": {"type": "line", "strokeOpacity": 0},
      "encoding": {
        "x": {"field": "minutes", "type": "quantitative",
          "axis": {"orient": "bottom", "values": [2, 4, 6, 8, 12, 14, 16, 18, 22, 24, 26, 28, 32, 34, 36, 38, 42, 44, 46, 48, 52, 54, 56, 58, 62, 64, 66, 68, 72, 74, 76, 78, 82, 84, 86, 88, 92, 94, 96, 98, 102], "tickSize": 5, "labels": false, "title": null}},
        "y": {"field": "mbps", "type": "quantitative",
          "axis": {"orient": "left", "values": [2, 4, 6, 8, 12, 14, 16, 18, 22, 24, 26, 28, 32, 34, 36, 38], "tickSize": 5, "labels": false, "title": null}}
      }
    },
    {
      "mark": {"type": "line", "strokeOpacity": 0},
      "encoding": {
        "x": {"field": "minutes", "type": "quantitative",
          "axis": {"orient": "top", "values": [0, 10, 20, 30, 40, 50, 60, 70, 80, 90, 100], "tickSize": -9, "labels": false, "title": null}},
        "y": {"field": "mbps", "type": "quantitative",
          "axis": {"orient": "left", "values": [2, 4, 6, 8, 12, 14, 16, 18, 22, 24, 26, 28, 32, 34, 36, 38], "tickSize": -4, "labels": false, "title": null}}
      }
    },
    {
      "mark": {"type": "line", "strokeOpacity": 0},
      "encoding": {
        "x": {"field": "minutes", "type": "quantitative",
          "axis": {"orient": "top", "values": [2, 4, 6, 8, 12, 14, 16, 18, 22, 24, 26, 28, 32, 34, 36, 38, 42, 44, 46, 48, 52, 54, 56, 58, 62, 64, 66, 68, 72, 74, 76, 78, 82, 84, 86, 88, 92, 94, 96, 98, 102], "tickSize": -5, "labels": false, "title": null}},
        "y": {"field": "mbps", "type": "quantitative",
          "axis": {"orient": "right", "values": [0, 10, 20, 30, 40], "tickSize": 9, "labelPadding": 13, "title": null}}
      }
    },
    {
      "mark": {"type": "line", "strokeOpacity": 0},
      "encoding": {
        "x": {"field": "minutes", "type": "quantitative", "axis": null},
        "y": {"field": "mbps", "type": "quantitative",
          "axis": {"orient": "right", "values": [0, 10, 20, 30, 40], "tickSize": -10, "labels": false, "title": null}}
      }
    },
    {
      "mark": {"type": "line", "strokeOpacity": 0},
      "encoding": {
        "x": {"field": "minutes", "type": "quantitative", "axis": null},
        "y": {"field": "mbps", "type": "quantitative",
          "axis": {"orient": "right", "values": [2, 4, 6, 8, 12, 14, 16, 18, 22, 24, 26, 28, 32, 34, 36, 38], "tickSize": 9, "labels": false, "title": null}}
      }
    },
    {
      "mark": {"type": "line", "strokeOpacity": 0},
      "encoding": {
        "x": {"field": "minutes", "type": "quantitative", "axis": null},
        "y": {"field": "mbps", "type": "quantitative",
          "axis": {"orient": "right", "values": [2, 4, 6, 8, 12, 14, 16, 18, 22, 24, 26, 28, 32, 34, 36, 38], "tickSize": -5, "labels": false, "title": null}}
      }
    }
  ],
  "resolve": {"axis": {"x": "independent", "y": "independent"}}
}
